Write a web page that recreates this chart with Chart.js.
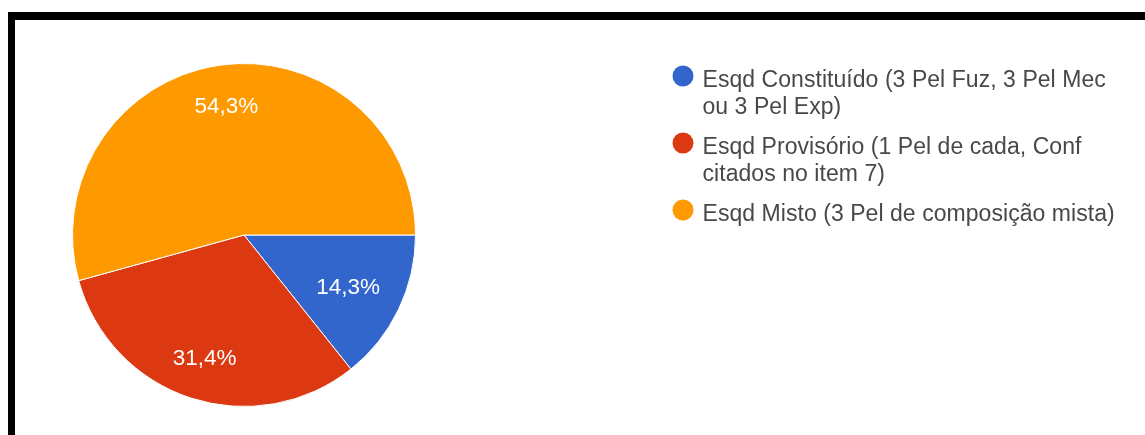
<!DOCTYPE html>
<html lang="pt">
<head>
<meta charset="utf-8">
<script src="https://cdn.jsdelivr.net/npm/chart.js@4.4.1/dist/chart.umd.min.js"></script>
<style>
  html, body { margin: 0; padding: 0; background: #fff; width: 1145px; height: 435px; overflow: hidden; }
  #chart { position: absolute; left: 0; top: 0; }
  #frame {
    position: absolute; left: 8px; top: 12px; width: 1200px; height: 500px;
    border-top: 8px solid #000; border-left: 7px solid #000; pointer-events: none;
  }
</style>
</head>
<body>
<canvas id="chart" width="1145" height="435"></canvas>
<div id="frame"></div>
<script>
// Answer options (categories) and number of responses for each
const categories = [
  'Esqd Constituído (3 Pel Fuz, 3 Pel Mec ou 3 Pel Exp)',
  'Esqd Provisório (1 Pel de cada, Conf citados no item 7)',
  'Esqd Misto (3 Pel de composição mista)'
];
const responses = [5, 11, 19];
const sliceColors = ['#3366cc', '#dc3912', '#ff9900'];

const FONT_FAMILY = '"Liberation Sans", Arial, Helvetica, sans-serif';

function wrapText(ctx, text, maxWidth) {
  const words = text.split(' ');
  const lines = [];
  let line = '';
  for (const w of words) {
    const test = line ? line + ' ' + w : w;
    if (line && ctx.measureText(test).width > maxWidth) {
      lines.push(line);
      line = w;
    } else {
      line = test;
    }
  }
  if (line) lines.push(line);
  return lines;
}

// Percentage labels inside each slice, kept inside the disc
const sliceLabels = {
  id: 'sliceLabels',
  afterDatasetsDraw(chart) {
    const ctx = chart.ctx;
    const meta = chart.getDatasetMeta(0);
    const total = responses.reduce((a, b) => a + b, 0);
    ctx.save();
    ctx.font = '22.5px ' + FONT_FAMILY;
    ctx.fillStyle = '#ffffff';
    ctx.textAlign = 'center';
    ctx.textBaseline = 'middle';
    meta.data.forEach((arc, i) => {
      const p = arc.getProps(['x', 'y', 'startAngle', 'endAngle', 'outerRadius'], true);
      const mid = (p.startAngle + p.endAngle) / 2;
      const text = (responses[i] / total * 100).toFixed(1).replace('.', ',') + '%';
      const hw = ctx.measureText(text).width / 2;
      const hh = 9;
      const c = Math.abs(Math.cos(mid)), s = Math.abs(Math.sin(mid));
      const limit = p.outerRadius * 0.865;
      const b = hw * c + hh * s;
      const d = -b + Math.sqrt(b * b - (hw * hw + hh * hh - limit * limit));
      ctx.fillText(text, p.x + Math.cos(mid) * d, p.y + Math.sin(mid) * d + 2.5);
    });
    ctx.restore();
  }
};

// Legend on the right with round markers and wrapped text
const sideLegend = {
  id: 'sideLegend',
  afterDraw(chart) {
    const ctx = chart.ctx;
    const dotX = 683, textX = 702.5, maxWidth = 420;
    const lineHeight = 27, itemGap = 40;
    let baseline = 87;
    ctx.save();
    ctx.font = '23px ' + FONT_FAMILY;
    ctx.letterSpacing = '0.05px';
    ctx.textAlign = 'left';
    ctx.textBaseline = 'alphabetic';
    chart.data.labels.forEach((label, i) => {
      const lines = wrapText(ctx, label, maxWidth);
      ctx.fillStyle = sliceColors[i];
      ctx.beginPath();
      ctx.arc(dotX, baseline - 11, 10.5, 0, Math.PI * 2);
      ctx.fill();
      ctx.fillStyle = '#484848';
      lines.forEach((ln, j) => ctx.fillText(ln, textX, baseline + j * lineHeight));
      baseline += (lines.length - 1) * lineHeight + itemGap;
    });
    ctx.restore();
  }
};

new Chart(document.getElementById('chart'), {
  type: 'pie',
  data: {
    labels: categories,
    datasets: [{
      data: responses,
      backgroundColor: sliceColors,
      borderColor: '#ffffff',
      borderWidth: 1
    }]
  },
  options: {
    responsive: false,
    animation: false,
    rotation: 90,
    layout: { padding: { left: 72, top: 63, right: 729, bottom: 28 } },
    plugins: {
      legend: { display: false },
      tooltip: { enabled: false }
    }
  },
  plugins: [sliceLabels, sideLegend]
});
</script>
</body>
</html>
